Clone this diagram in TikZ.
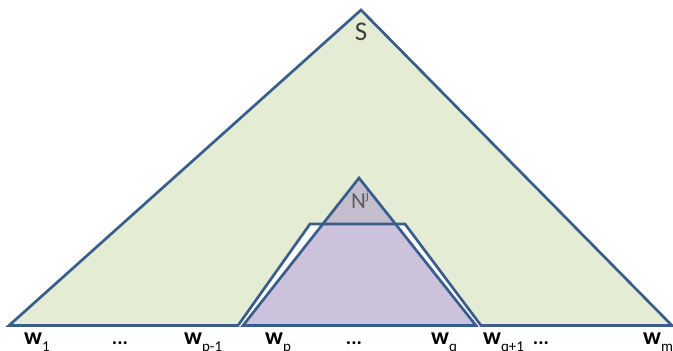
\documentclass[tikz,border=0pt]{standalone}
\usepackage{fontspec}
\setmainfont{Carlito}
\definecolor{trline}{HTML}{3A5E8C}
\definecolor{trgreen}{HTML}{E4ECD4}
\definecolor{trpurple}{HTML}{CCC2DB}
\definecolor{trmix}{HTML}{C3BDCE}
\definecolor{trtext}{HTML}{404040}
\newcommand{\wsub}[1]{w\raisebox{-0.3em}{\mdseries\fontsize{15}{15}\selectfont #1}}
\begin{document}
\begin{tikzpicture}[x=1pt,y=-1pt,
  tree/.style={draw=trline,line width=2.7pt,line join=miter},
  root/.style={font=\fontsize{27}{28}\selectfont,text=trtext,anchor=base,inner sep=0pt},
  word/.style={font=\fontsize{24}{26}\selectfont\bfseries,anchor=base west,inner sep=0pt},
  dots/.style={font=\fontsize{20}{22}\selectfont\bfseries,anchor=base,inner sep=0pt}]
  \useasboundingbox (0,0) rectangle (673,351);
  \coordinate (sl) at (9,325.5);
  \coordinate (st) at (361,10);
  \coordinate (sr) at (672,325.5);
  \coordinate (nl) at (238,325.5);
  \coordinate (ntl) at (310,224);
  \coordinate (ntr) at (405,224);
  \coordinate (nr) at (481,325.5);
  \coordinate (pt) at (359,178);
  \coordinate (pl) at (243,325.5);
  \coordinate (pr) at (476,325.5);
  \fill[trgreen] (sl) -- (st) -- (sr) -- (nr) -- (ntr) -- (ntl) -- (nl) -- cycle;
  \fill[trpurple] (pt) -- (pl) -- (pr) -- cycle;
  \begin{scope}
    \clip (0,0) rectangle (673,224);
    \fill[trmix] (pt) -- (pl) -- (pr) -- cycle;
  \end{scope}
  \draw[tree] (sl) -- (st) -- (sr) -- (nr) -- (ntr) -- (ntl) -- (nl) -- cycle;
  \draw[tree] (pt) -- (pl) -- (pr) -- cycle;
  \node[root] (s) at (361,40) {S};
  \node[root,font=\fontsize{23}{24}\selectfont,text=trtext!85] (n) at (360,208)
    {N\raisebox{0.35em}{\fontsize{13}{13}\selectfont j}};
  \node[word] (w1) at (24,344) {\wsub{1}};
  \node[dots] (d1) at (120,344) {...};
  \node[word] (wp1) at (184,344) {\wsub{p-1}};
  \node[word] (wp) at (265,344) {\wsub{p}};
  \node[dots] (d2) at (354,344) {...};
  \node[word] (wq) at (431,344) {\wsub{q}};
  \node[word] (wq1) at (483,344) {\wsub{q+1}};
  \node[dots] (d3) at (541,344) {...};
  \node[word] (wm) at (643,344) {\wsub{m}};
\end{tikzpicture}
\end{document}
